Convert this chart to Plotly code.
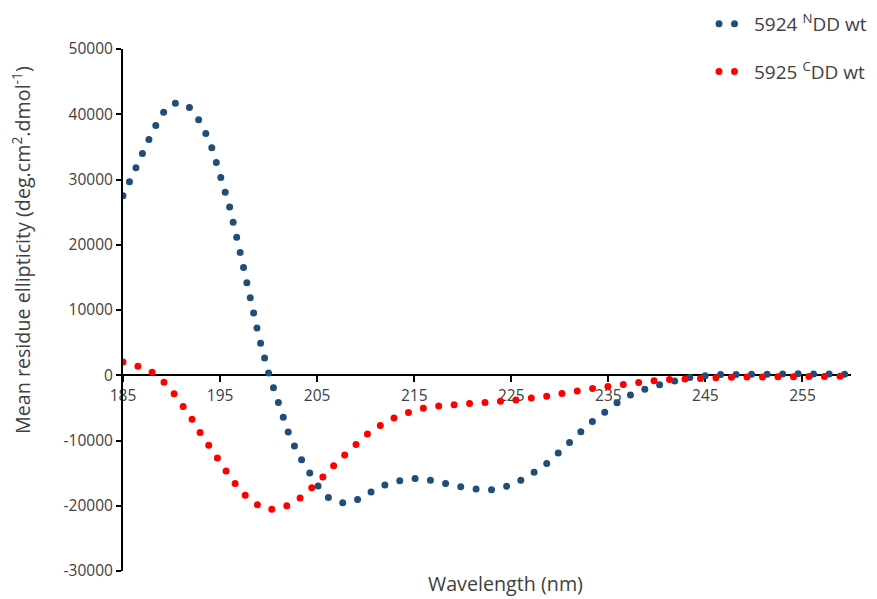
import plotly.graph_objects as go

wavelength = [185, 186, 187, 188, 189, 190, 191, 192, 193, 194, 195, 196, 197, 198, 199,
              200, 201, 202, 203, 204, 205, 206, 207, 208, 209, 210, 211, 212, 213, 214,
              215, 216, 217, 218, 219, 220, 221, 222, 223, 224, 225, 226, 227, 228, 229,
              230, 231, 232, 233, 234, 235, 236, 237, 238, 239, 240, 241, 242, 243, 244,
              245, 246, 247, 248, 249, 250, 251, 252, 253, 254, 255, 256, 257, 258, 259, 260]

ndd_wt = [27500, 30900, 34200, 37200, 40000, 41600, 41800, 40900, 38700, 35600,
          30700, 25700, 19300, 12500, 5900, 300, -4500, -8600, -12000, -14600,
          -16800, -18600, -19400, -19600, -19200, -18300, -17500, -16800, -16300, -15950,
          -15800, -15900, -16100, -16500, -16900, -17150, -17400, -17550, -17550, -17300,
          -16850, -16100, -15300, -14300, -13100, -11800, -10300, -8900, -7500, -6300,
          -5150, -4100, -3200, -2500, -2000, -1550, -1100, -700, -430, -200,
          -50, 50, 150, 100, 150, 200, 150, 200, 250, 200,
          250, 200, 250, 350, 200, 100]

cdd_wt = [2040, 1700, 1200, 460, -700, -2300, -4250, -6450, -8900, -11300,
          -13300, -15500, -17500, -19000, -20000, -20600, -20450, -19950, -19100, -17900,
          -16600, -15000, -13400, -11900, -10500, -9200, -8100, -7200, -6500, -5900,
          -5400, -5050, -4800, -4600, -4480, -4400, -4320, -4270, -4150, -4000,
          -3850, -3700, -3600, -3350, -3150, -2850, -2550, -2300, -2150, -1900,
          -1700, -1480, -1250, -1080, -920, -780, -670, -580, -500, -430,
          -380, -350, -320, -300, -290, -280, -270, -260, -250, -240,
          -230, -220, -200, -190, -170, -150]

y_ticks = [-30000, -20000, -10000, 0, 10000, 20000, 30000, 40000, 50000]
y_ticktext = ["-30000", "-20000", "-10000", "0", "10000", "20000", "30000", "40000", "50000"]
x_ticks = [185, 195, 205, 215, 225, 235, 245, 255]
x_ticktext = ["185", "195", "205", "215", "225", "235", "245", "255"]

names = ["5924 <sup>N</sup>DD wt", "5925 <sup>C</sup>DD wt"]
colors = ["#1F4E79", "#FF0000"]

FONT = "Open Sans, Liberation Sans, sans-serif"
TXT = "#404040"
dot = "0px,15.5px"

L, R, T, B = 123, 26, 49, 28
PW = 877 - L - R
PH = 599 - T - B

fig = go.Figure()
fig.add_trace(go.Scatter(x=wavelength, y=ndd_wt, mode="lines", name=names[0],
                         line=dict(color=colors[0], width=7, dash=dot),
                         legendgroup="a"))
fig.add_trace(go.Scatter(x=wavelength, y=cdd_wt, mode="lines", name=names[1],
                         line=dict(color=colors[1], width=7, dash=dot),
                         legendgroup="b"))

fig.update_layout(
    width=877, height=599,
    margin=dict(l=L, r=R, t=T, b=B, autoexpand=False),
    paper_bgcolor="white", plot_bgcolor="white",
    font=dict(family=FONT, size=15.5, color=TXT),
    xaxis=dict(range=[185, 260], tickvals=x_ticks, ticktext=x_ticktext,
               showgrid=False, zeroline=False,
               showline=True, linecolor="black", linewidth=2,
               ticks="outside", ticklen=6, tickwidth=2, tickcolor="black",
               anchor="free", position=0.375, layer="below traces",
               tickfont=dict(family=FONT, size=15.5, color=TXT)),
    yaxis=dict(range=[-30000, 50000], tickvals=y_ticks, ticktext=y_ticktext,
               showgrid=False, zeroline=False,
               showline=True, linecolor="black", linewidth=2,
               ticks="outside", ticklen=5, tickwidth=2, tickcolor="black",
               tickfont=dict(family=FONT, size=15.5, color=TXT)),
    showlegend=True,
    legend=dict(x=(714 - L) / PW, y=(599 - B - 5) / PH, xref="paper", yref="paper",
                xanchor="left", yanchor="top", bgcolor="rgba(0,0,0,0)",
                traceorder="grouped", tracegroupgap=20,
                font=dict(family=FONT, size=19, color=TXT)),
    annotations=[
        dict(text="Wavelength (nm)", x=(505 - L) / PW, y=(599 - B - 583) / PH,
             xanchor="center", yanchor="middle",
             xref="paper", yref="paper", showarrow=False,
             font=dict(family=FONT, size=19.7, color=TXT)),
        dict(text="Mean residue ellipticity (deg.cm<sup>2</sup>.dmol<sup>-1</sup>)",
             x=(21 - L) / PW, y=(599 - B - 250) / PH, textangle=-90,
             xanchor="center", yanchor="middle",
             xref="paper", yref="paper", showarrow=False,
             font=dict(family=FONT, size=19.7, color=TXT)),
    ],
)

js = ("var s=document.createElement('style');"
      "s.textContent='body{margin:0 !important;} .js-line{stroke-linecap:round !important;}';"
      "document.head.appendChild(s);")
fig.write_html("out.html", post_script=js, config={"displayModeBar": False})
